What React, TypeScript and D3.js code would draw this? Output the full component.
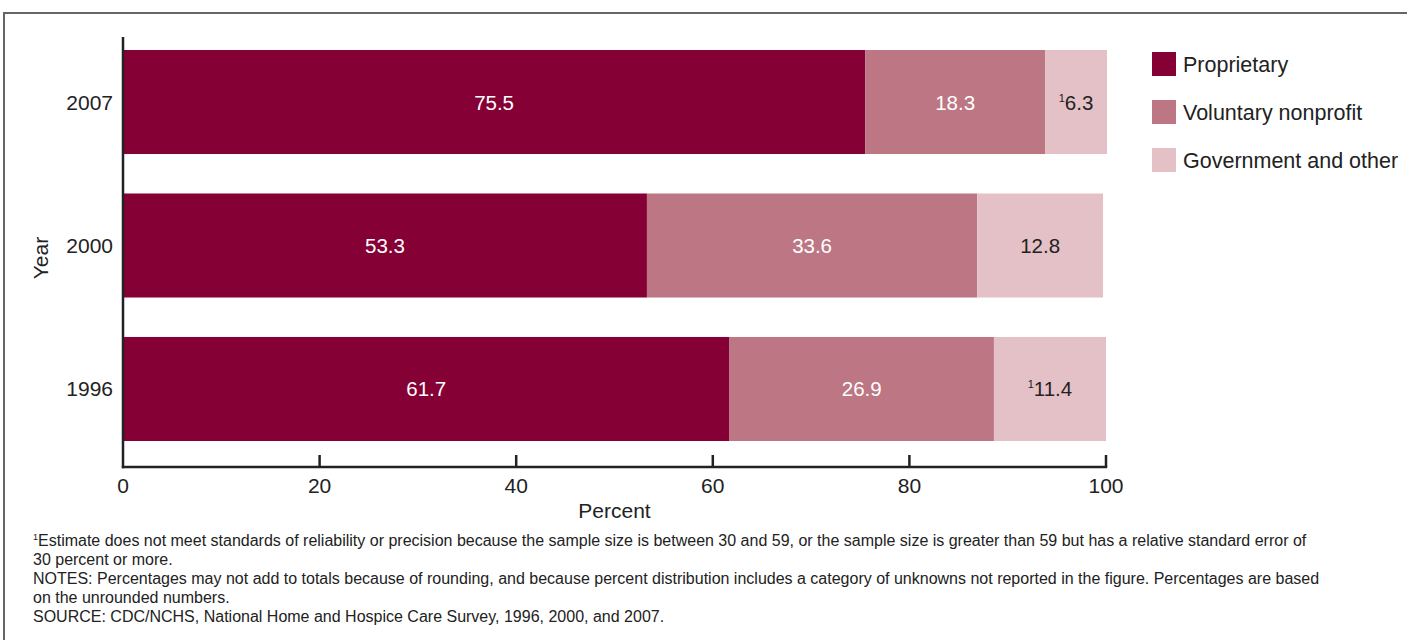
import React from "react";
import * as d3 from "d3";

const years = ["2007", "2000", "1996"];
const seriesNames = ["Proprietary", "Voluntary nonprofit", "Government and other"];
const proprietary = [75.5, 53.3, 61.7];
const voluntary = [18.3, 33.6, 26.9];
const government = [6.3, 12.8, 11.4];
const flagged = [
  [false, false, true],
  [false, false, false],
  [false, false, true],
];
const xTicks = [0, 20, 40, 60, 80, 100];
const colors = ["#850035", "#BD7683", "#E4C1C6"];
const labelColors = ["#ffffff", "#ffffff", "#222222"];
const footnotes = [
  "Estimate does not meet standards of reliability or precision because the sample size is between 30 and 59, or the sample size is greater than 59 but has a relative standard error of",
  "30 percent or more.",
  "NOTES: Percentages may not add to totals because of rounding, and because percent distribution includes a category of unknowns not reported in the figure. Percentages are based",
  "on the unrounded numbers.",
  "SOURCE: CDC/NCHS, National Home and Hospice Care Survey, 1996, 2000, and 2007.",
];

export default function App() {
  const W = 1407, H = 640;
  const font = "'Liberation Sans', Arial, Helvetica, sans-serif";
  const x = d3.scaleLinear().domain([0, 100]).range([123, 1106]);
  const y = d3.scaleBand<string>().domain(years).range([50, 441]).paddingInner(0.275).paddingOuter(0);
  const axisY = 467;
  const textColor = "#222";

  const rows = years.map((yr, i) => ({ yr, vals: [proprietary[i], voluntary[i], government[i]] }));

  return (
    <svg width={W} height={H} style={{ position: "absolute", left: 0, top: 0, background: "#fff" }} fontFamily={font}>
      <rect x={0} y={0} width={W} height={H} fill="#fff" />
      {/* frame */}
      <line x1={4} y1={13} x2={W} y2={13} stroke="#666" strokeWidth={2} />
      <line x1={4} y1={12} x2={4} y2={H} stroke="#666" strokeWidth={2} />

      {/* bars */}
      {rows.map((r, i) => {
        let acc = 0;
        return (
          <g key={r.yr}>
            {r.vals.map((v, k) => {
              const x0 = x(acc);
              acc += v;
              const x1 = x(acc);
              const cx = (x0 + x1) / 2;
              const cy = (y(r.yr) as number) + y.bandwidth() / 2;
              return (
                <g key={k}>
                  <rect x={x0} y={y(r.yr)} width={x1 - x0} height={y.bandwidth()} fill={colors[k]} />
                  <text x={cx} y={cy + 7.5} textAnchor="middle" fontSize={20.5} fill={labelColors[k]}>
                    {flagged[i][k] ? (
                      <>
                        <tspan fontSize={11} dy={-8}>1</tspan>
                        <tspan dy={8}>{v.toFixed(1)}</tspan>
                      </>
                    ) : (
                      v.toFixed(1)
                    )}
                  </text>
                </g>
              );
            })}
          </g>
        );
      })}

      {/* axes */}
      <line x1={123} y1={37} x2={123} y2={axisY + 1.2} stroke={textColor} strokeWidth={2.5} />
      <line x1={121.8} y1={axisY} x2={x(100) + 1.2} y2={axisY} stroke={textColor} strokeWidth={2.5} />
      {xTicks.map((t) => (
        <g key={t}>
          {t > 0 && <line x1={x(t)} y1={axisY - 12} x2={x(t)} y2={axisY} stroke={textColor} strokeWidth={2.5} />}
          <text x={x(t)} y={493} textAnchor="middle" fontSize={21} fill={textColor}>{t}</text>
        </g>
      ))}
      <text x={x(50)} y={518} textAnchor="middle" fontSize={21} fill={textColor}>Percent</text>

      {years.map((yr) => (
        <text key={yr} x={113} y={(y(yr) as number) + y.bandwidth() / 2 + 7.5} textAnchor="end" fontSize={21} fill={textColor}>{yr}</text>
      ))}
      <text transform="translate(48,258) rotate(-90)" textAnchor="middle" fontSize={21} fill={textColor}>Year</text>

      {/* legend */}
      {seriesNames.map((s, k) => (
        <g key={s} transform={`translate(1152,${52 + k * 48})`}>
          <rect x={0} y={0} width={24} height={24} fill={colors[k]} />
          <text x={31} y={20} fontSize={21.5} fill={textColor}>{s}</text>
        </g>
      ))}

      {/* footnotes */}
      {footnotes.map((f, i) => (
        <text key={i} x={33} y={546 + i * 19} fontSize={16} fill={textColor}>
          {i === 0 ? (
            <>
              <tspan fontSize={9} dy={-6}>1</tspan>
              <tspan dy={6}>{f}</tspan>
            </>
          ) : (
            f
          )}
        </text>
      ))}
    </svg>
  );
}
